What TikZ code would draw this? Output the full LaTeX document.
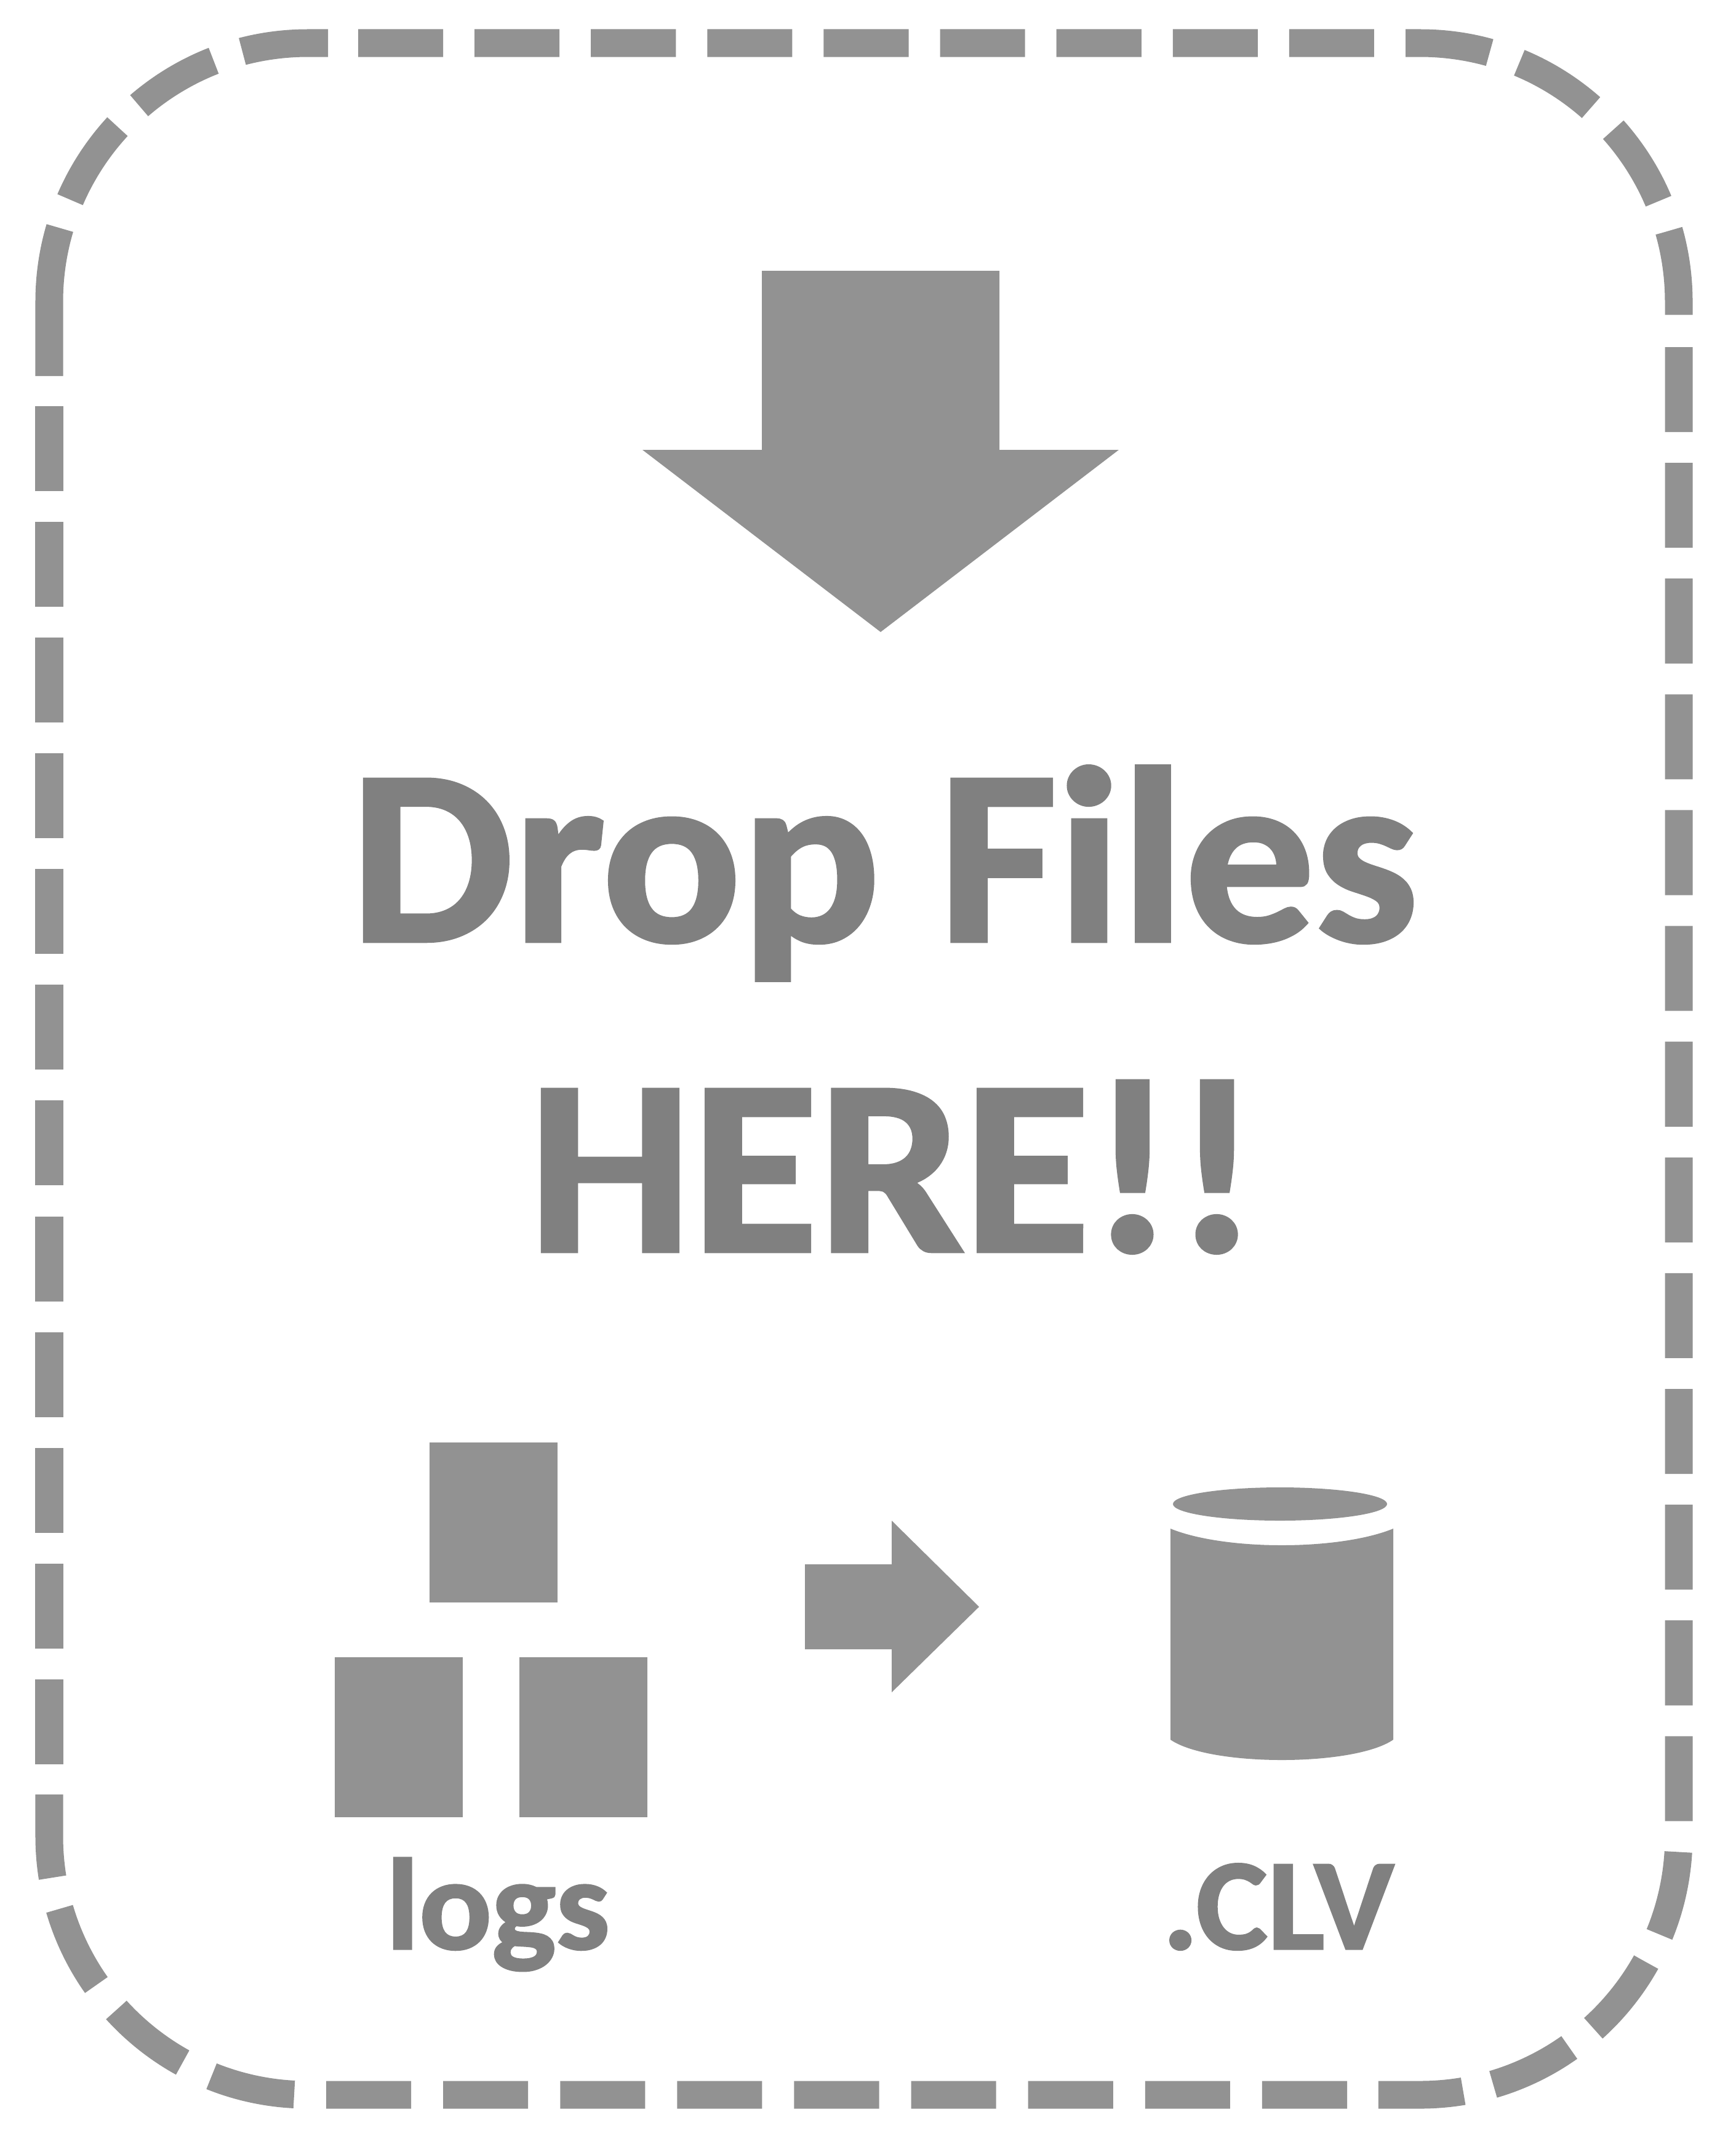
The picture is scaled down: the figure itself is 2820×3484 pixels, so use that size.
\documentclass[tikz,border=0pt]{standalone}
\usepackage{fontspec}
\setmainfont{Carlito}[BoldFeatures={FakeBold=1.6, FakeStretch=1.04}]
\definecolor{shapegray}{RGB}{146, 146, 146}
\definecolor{textgray}{RGB}{128, 128, 128}
\tikzset{
  frameline/.style={shapegray, line width=0.45cm, dash pattern=on 1.38cm off #1, rounded corners=4.2cm},
  iconfill/.style={fill=shapegray, draw=none},
  bigtext/.style={textgray, anchor=base, font=\bfseries\fontsize{115}{115}\selectfont},
  smalltext/.style={textgray, anchor=base, font=\bfseries\fontsize{60}{60}\selectfont}
}
\begin{document}
\begin{tikzpicture}[x=0.01cm, y=-0.01cm]
        \useasboundingbox (0,0) rectangle (2820,3484);
        % dashed frame, side by side
        \draw[frameline=0.51cm] (582,70) -- (2728,70) -- (2728,515);
        \draw[frameline=0.50cm] (2728,564) -- (2728,3404) -- (2238,3404);
        \draw[frameline=0.52cm] (2189,3404) -- (80,3404) -- (80,2916);
        \draw[frameline=0.50cm] (80,2867) -- (80,660);
        \draw[frameline=0.49cm, dash pattern=on 2.42cm off 0.49cm on 1.42cm off 0.49cm on 1.42cm off 0.49cm on 1.42cm off 9cm] (80,611) -- (80,70) -- (533,70);

        % big arrow
        \fill[iconfill] (1238,440) -- (1624,440) -- (1624,731) -- (1818,731) -- (1431,1027) -- (1044,731) -- (1238,731) -- cycle;
        \node[bigtext] (drop) at (1437,1529) {Drop Files};
        \node[bigtext] (here) at (1452,2033) {HERE!!};

        % log boxes
        \foreach \x/\y in {698/2344, 544/2693, 844/2693} {
          \fill[iconfill] (\x,\y) rectangle ++(208,260);
        }
        \node[smalltext] (logs) at (809,3167) {logs};

        % small arrow
        \fill[iconfill] (1308,2542) -- (1449,2542) -- (1449,2471) -- (1591,2611) -- (1449,2750) -- (1449,2680) -- (1308,2680) -- cycle;

        % cylinder
        \fill[iconfill] (2080,2444) ellipse (174 and 27);
        \fill[iconfill] (1902,2484) .. controls (1990,2520) and (2176,2520) .. (2264,2484) -- (2264,2827) .. controls (2200,2871) and (1966,2871) .. (1902,2827) -- cycle;
        \node[smalltext] (clv) at (2077,3167) {.CLV};
      \end{tikzpicture}
\end{document}
